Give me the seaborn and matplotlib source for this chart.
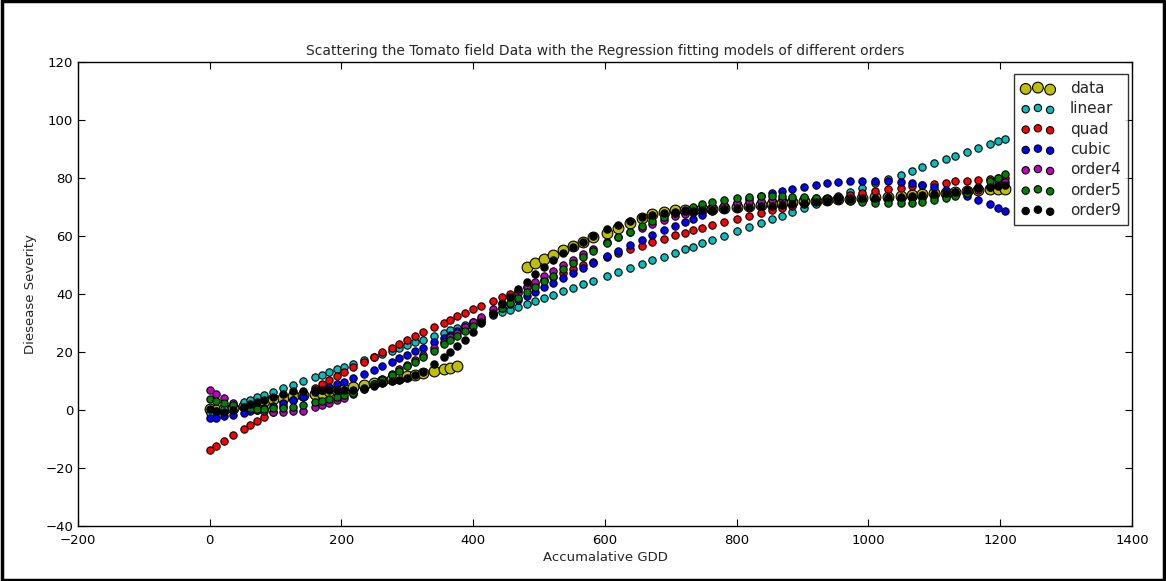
import numpy as np
import pandas as pd
import seaborn as sns
import matplotlib.pyplot as plt
from matplotlib.patches import Rectangle

# GDD positions where the fitted models are evaluated
GDD = [0, 10, 22, 36, 52, 61, 72, 83, 96, 111, 126, 141,
       160, 170, 181, 193, 204, 217, 234, 249, 262, 276, 288, 300, 312, 324, 340, 355, 365, 376,
       388, 400, 412, 430, 444, 456, 468,
       482, 494, 508, 521, 536, 551, 567, 582, 603, 620,
       638, 656, 672, 689, 707, 721, 733, 748, 763, 780,
       800, 819, 837, 854, 869, 884, 902, 921, 937, 954,
       972, 990, 1010, 1029, 1049, 1066, 1082, 1099, 1117, 1132,
       1149, 1167, 1185, 1196, 1207]

# observed field data
DATA_GDD = [0, 10, 22, 36, 52, 61, 72, 83, 96, 111, 126, 141,
            160, 170, 181, 193, 204, 217, 234, 249, 262, 276, 288, 300, 312, 324, 340, 355, 365, 376,
            482, 494, 508, 521, 536, 551, 567, 582, 603, 620,
            638, 656, 672, 689, 707, 721, 733, 748, 763, 780,
            800, 819, 837, 854, 869, 884, 902, 921, 937, 954,
            972, 990, 1010, 1029, 1049, 1066, 1082, 1099, 1117, 1132,
            1149, 1167, 1185, 1196, 1207]
DATA_SEV = [0.2, 0.0, 0.3, 0.8, 1.4, 2.0, 2.6, 3.2, 3.8, 4.3, 4.8, 5.2,
            5.6, 6.0, 6.4, 6.9, 7.3, 7.8, 8.6, 9.4, 10.1, 10.6, 11.2, 11.7, 12.2, 12.7, 13.6, 14.0, 14.5, 15.3,
            49.2, 50.6, 52.0, 53.4, 55.0, 56.5, 58.0, 59.5, 61.2, 62.6,
            64.5, 66.3, 67.6, 68.4, 68.8, 69.0, 69.1, 69.2, 69.4, 69.6,
            70.0, 70.4, 70.8, 71.2, 71.5, 71.8, 72.0, 72.2, 72.3, 72.6,
            72.8, 73.0, 73.3, 73.6, 73.9, 74.3, 74.5, 74.7, 74.9, 75.3,
            75.6, 75.9, 76.1, 76.1, 76.1]

LINEAR = [-1.2, -0.4, 0.5, 1.6, 2.9, 3.6, 4.5, 5.3, 6.3, 7.5, 8.7, 9.9,
          11.4, 12.1, 13.0, 14.0, 14.8, 15.8, 17.2, 18.3, 19.4, 20.5, 21.4, 22.4, 23.3, 24.2, 25.5, 26.7, 27.5, 28.3,
          29.3, 30.2, 31.1, 32.6, 33.7, 34.6, 35.5,
          36.6, 37.6, 38.7, 39.7, 40.9, 42.1, 43.3, 44.5, 46.1, 47.5,
          48.9, 50.3, 51.6, 52.9, 54.3, 55.4, 56.3, 57.5, 58.7, 60.0,
          61.6, 63.1, 64.5, 65.8, 67.0, 68.2, 69.6, 71.1, 72.4, 73.7,
          75.1, 76.5, 78.1, 79.6, 81.1, 82.5, 83.7, 85.1, 86.5, 87.7,
          89.0, 90.4, 91.8, 92.7, 93.5]

QUAD = [-13.8, -12.4, -10.7, -8.7, -6.5, -5.3, -3.8, -2.3, -0.6, 1.4, 3.3, 5.3,
        7.7, 8.9, 10.3, 11.8, 13.1, 14.7, 16.7, 18.4, 19.9, 21.5, 22.9, 24.2, 25.5, 26.8, 28.5, 30.1, 31.2, 32.3,
        33.5, 34.7, 35.9, 37.7, 39.0, 40.1, 41.2,
        42.5, 43.6, 44.8, 46.0, 47.3, 48.5, 49.9, 51.1, 52.7, 54.0,
        55.4, 56.7, 57.8, 59.0, 60.2, 61.2, 61.9, 62.9, 63.8, 64.8,
        65.9, 67.0, 68.0, 68.8, 69.6, 70.3, 71.2, 72.0, 72.7, 73.4,
        74.1, 74.7, 75.4, 76.1, 76.7, 77.2, 77.6, 78.0, 78.4, 78.8,
        79.1, 79.4, 79.7, 79.9, 80.0]

CUBIC = [-2.8, -2.6, -2.2, -1.6, -0.9, -0.5, 0.1, 0.7, 1.5, 2.5, 3.5, 4.5,
         6.1, 6.9, 7.8, 8.8, 9.7, 10.9, 12.5, 13.9, 15.1, 16.5, 17.8, 19.0, 20.3, 21.5, 23.3, 24.9, 26.0, 27.3,
         28.6, 30.0, 31.4, 33.4, 35.0, 36.4, 37.8,
         39.4, 40.8, 42.4, 43.9, 45.6, 47.3, 49.1, 50.8, 53.1, 54.9,
         56.8, 58.7, 60.3, 61.9, 63.6, 64.9, 66.0, 67.3, 68.5, 69.8,
         71.3, 72.6, 73.7, 74.7, 75.5, 76.2, 77.0, 77.7, 78.1, 78.5,
         78.8, 79.0, 79.0, 78.9, 78.5, 78.1, 77.5, 76.8, 75.9, 75.0,
         73.9, 72.5, 70.9, 69.8, 68.7]

ORDER4 = [7.0, 5.5, 4.0, 2.5, 1.2, 0.6, 0.1, -0.3, -0.6, -0.6, -0.5, -0.2,
          1.0, 1.6, 2.4, 3.3, 4.3, 5.6, 7.3, 9.1, 10.6, 12.4, 14.0, 15.6, 17.3, 19.0, 21.4, 23.6, 25.1, 26.7,
          28.6, 30.4, 32.2, 34.9, 37.0, 38.8, 40.5,
          42.5, 44.2, 46.2, 47.9, 49.9, 51.8, 53.7, 55.5, 57.8, 59.6,
          61.3, 62.9, 64.3, 65.6, 66.8, 67.7, 68.4, 69.2, 69.9, 70.6,
          71.3, 71.8, 72.2, 72.5, 72.7, 72.9, 73.0, 73.0, 73.0, 73.0,
          73.0, 72.9, 72.8, 72.8, 72.9, 73.0, 73.2, 73.4, 73.8, 74.3,
          75.0, 75.9, 77.0, 77.8, 78.7]

ORDER5 = [3.8, 3.2, 2.4, 1.6, 0.9, 0.6, 0.5, 0.5, 0.6, 0.8, 1.2, 1.7,
          2.6, 3.1, 3.7, 4.4, 5.1, 6.0, 7.3, 9.0, 10.4, 12.0, 13.5, 15.1, 16.7, 18.3, 20.5, 22.6, 24.0, 25.5,
          27.2, 28.8, 30.5, 33.0, 35.0, 36.8, 38.5,
          40.6, 42.3, 44.4, 46.3, 48.5, 50.6, 52.8, 54.8, 57.5, 59.5,
          61.5, 63.4, 65.0, 66.6, 68.0, 69.1, 69.9, 70.9, 71.7, 72.5,
          73.1, 73.5, 73.7, 73.9, 73.8, 73.6, 73.3, 73.0, 72.6, 72.3,
          72.0, 71.7, 71.5, 71.4, 71.4, 71.5, 71.8, 72.3, 73.0, 73.7,
          74.9, 76.8, 78.8, 80.0, 81.4]

ORDER9 = [0.3, -0.4, -0.6, 0.0, 1.0, 1.9, 2.7, 3.4, 4.6, 5.6, 6.4, 6.7,
          6.8, 6.9, 6.9, 6.9, 6.8, 6.9, 7.5, 8.4, 9.2, 9.9, 10.5, 11.2, 12.1, 13.2, 15.7, 18.4, 20.1, 22.0,
          24.3, 27.0, 30.0, 33.6, 36.5, 39.1, 41.6,
          44.2, 46.9, 49.4, 51.7, 54.0, 56.3, 58.0, 60.0, 62.3, 63.8,
          65.3, 66.4, 67.1, 67.9, 68.3, 68.5, 68.7, 69.0, 69.1, 69.3,
          69.6, 69.9, 70.2, 70.4, 70.8, 71.1, 71.4, 71.8, 72.2, 72.6,
          72.8, 73.0, 73.2, 73.4, 73.6, 73.8, 74.1, 74.5, 74.9, 75.3,
          75.9, 76.4, 77.0, 77.3, 77.5]

MODEL_NAMES = ["linear", "quad", "cubic", "order4", "order5", "order9"]
MODEL_VALUES = [LINEAR, QUAD, CUBIC, ORDER4, ORDER5, ORDER9]
MODEL_COLORS = ["c", "r", "b", "m", "g", "k"]


def main():
    sns.set_style("ticks", {"xtick.direction": "in", "ytick.direction": "in"})
    plt.rcParams["font.family"] = ["DejaVu Sans"]

    fig = plt.figure(figsize=(11.66, 5.81), dpi=100)
    ax = fig.add_axes([0.0669, 0.0947, 0.9039, 0.7986])

    # field data first, the fitted models drawn over it
    sns.scatterplot(x=DATA_GDD, y=DATA_SEV, color="y", s=60,
                    edgecolor="black", linewidth=0.8, label="data", ax=ax)
    for name, vals, col in zip(MODEL_NAMES, MODEL_VALUES, MODEL_COLORS):
        sns.scatterplot(x=GDD, y=vals, color=col, s=28,
                        edgecolor="black", linewidth=0.8, label=name, ax=ax)

    ax.set_xlim(-200, 1400)
    ax.set_ylim(-40, 120)
    ax.set_xticks(range(-200, 1401, 200))
    ax.set_yticks(range(-40, 121, 20))
    ax.tick_params(top=True, right=True, length=5, width=0.8, labelsize=9.5, colors="black")
    ax.tick_params(axis="x", pad=6)
    for side in ("top", "right", "bottom", "left"):
        ax.spines[side].set_color("black")
        ax.spines[side].set_linewidth(1.0)

    ax.set_title("Scattering the Tomato field Data with the Regression fitting models of different orders",
                 fontsize=10, pad=5)
    ax.set_xlabel("Accumalative GDD", fontsize=9.5, labelpad=3)
    ax.set_ylabel("Diesease Severity", fontsize=9.5, labelpad=6)

    leg = ax.legend(loc="upper right", bbox_to_anchor=(0.996, 0.974), borderaxespad=0.0,
                    scatterpoints=3, scatteryoffsets=[0.375, 0.5, 0.3125],
                    fontsize=11, frameon=True, fancybox=False,
                    handlelength=2.2, handletextpad=1.0, labelspacing=0.35, borderpad=0.45)
    leg.get_frame().set_edgecolor("black")
    leg.get_frame().set_linewidth(1.0)

    # outer frame round the whole picture
    fig.patches.append(Rectangle((0.002, 0.002), 0.996, 0.996, transform=fig.transFigure,
                                 fill=False, edgecolor="black", linewidth=2.5))

    fig.savefig("out.png", dpi=100, facecolor="white")


if __name__ == "__main__":
    main()
